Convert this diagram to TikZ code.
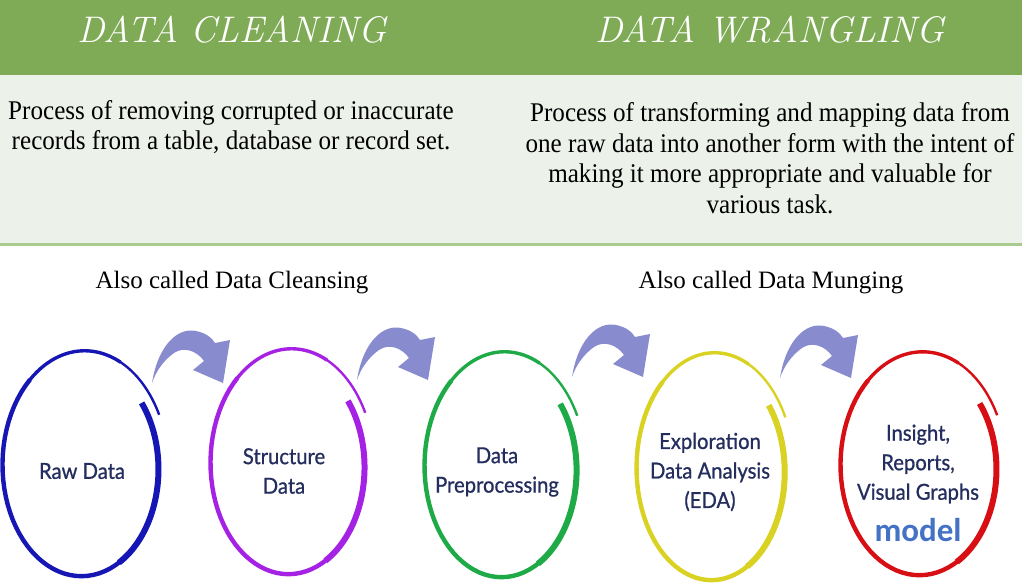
\documentclass[tikz,border=0pt]{standalone}
\usepackage{fontspec}
\newfontfamily\bodyfont[FakeStretch=0.93]{Liberation Serif}
\newfontfamily\alsofont{Liberation Serif}
\newfontfamily\circfont[FakeBold=0.8,FakeStretch=0.92]{Lato}
\newfontfamily\modelfont{Carlito}
\definecolor{hdrgreen}{RGB}{127,171,86}
\definecolor{lightband}{RGB}{236,241,233}
\definecolor{sepgreen}{RGB}{170,203,143}
\definecolor{arrowc}{RGB}{136,140,206}
\definecolor{navy}{RGB}{36,46,94}
\definecolor{ringblue}{RGB}{22,22,180}
\definecolor{ringpurple}{RGB}{165,34,228}
\definecolor{ringgreen}{RGB}{30,170,70}
\definecolor{ringyellow}{RGB}{218,210,35}
\definecolor{ringred}{RGB}{215,15,20}
\definecolor{modelblue}{RGB}{68,114,196}
\newcommand{\myring}[5]{%
  \foreach \ta/\tb/\w in {0/0.27/6, 0.265/0.72/4.4, 0.715/0.9/3.4, 0.895/1/2.4}{%
    \draw[#5, line width=\w pt] plot[domain=\ta:\tb, samples=40, variable=\t]
      ({#1+(0.93+0.13*\t)*#3*cos(38-372*\t)},{#2-(0.93+0.13*\t)*#4*sin(38-372*\t)});
  }%
}
\tikzset{
  hdr/.style={text=white, font=\fontsize{37}{42}\selectfont\itshape},
  body/.style={align=center, font=\bodyfont\fontsize{27}{30.5}\selectfont},
  also/.style={font=\alsofont\fontsize{25}{28}\selectfont},
  ctext/.style={align=center, text=navy, font=\circfont\fontsize{22}{29.5}\selectfont},
  curvedarrow/.pic={
    \fill[arrowc] (0,0) .. controls (6,-38) and (26,-56) .. (44,-52)
      .. controls (54,-50) and (60,-45) .. (63,-40) -- (78,-43) -- (71,0) -- (41,-13) -- (52,-22)
      .. controls (45,-32) and (32,-37) .. (22,-30) .. controls (12,-23) and (4,-12) .. (0,0) -- cycle;
  }
}
\begin{document}
\begin{tikzpicture}[x=1pt,y=-1pt]
\useasboundingbox (0,0) rectangle (1022,586);
\fill[white] (0,0) rectangle (1022,586);
\fill[hdrgreen] (0,0) rectangle (1022,75);
\fill[lightband] (0,75) rectangle (1022,243);
\draw[sepgreen, line width=3pt] (0,244) -- (1022,244);

\node[hdr] (h1) at (232,30) {DATA CLEANING};
\node[hdr] (h2) at (770,30) {DATA WRANGLING};

\node[body] (b1) at (231,127) {Process of removing corrupted or inaccurate\\records from a table, database or record set.};
\node[body] (b2) at (770,158) {Process of transforming and mapping data from\\one raw data into another form with the intent of\\making it more appropriate and valuable for\\various task.};

\node[also] (a1) at (232,283) {Also called Data Cleansing};
\node[also] (a2) at (771,283) {Also called Data Munging};

\myring{83}{467}{80}{112}{ringblue}
\myring{290}{465}{79}{112}{ringpurple}
\myring{503}{468}{78}{112}{ringgreen}
\myring{713}{470}{76}{113}{ringyellow}
\myring{921}{467}{80}{111}{ringred}

\pic at (152,383) {curvedarrow};
\pic at (357,380) {curvedarrow};
\pic at (572,377) {curvedarrow};
\pic at (780,378) {curvedarrow};

\node[ctext] (c1) at (82,471) {Raw Data};
\node[ctext] (c2) at (284,471) {Structure\\Data};
\node[ctext] (c3) at (497,472) {Data\\Preprocessing};
\node[ctext] (c4) at (710,472) {Exploration\\Data Analysis\\(EDA)};
\node[ctext] (c5) at (918,464) {Insight,\\Reports,\\Visual Graphs};
\node[text=modelblue, font=\modelfont\bfseries\fontsize{33}{36}\selectfont] (m) at (918,530) {model};
\end{tikzpicture}
\end{document}
